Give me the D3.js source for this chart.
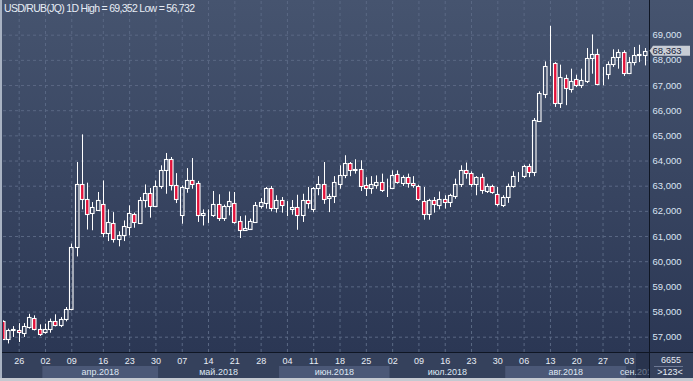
<!DOCTYPE html>
<html>
<head>
<meta charset="utf-8">
<script src="https://cdn.jsdelivr.net/npm/d3@7"></script>
<style>
  body { margin: 0; background: #2c3855; }
  svg { display: block; font-family: "Liberation Sans", Arial, sans-serif; }
</style>
</head>
<body>
<script>
// daily candles, 21.03.2018 .. 06.09.2018 (index = bar number)
const open = [57.61,56.89,57.25,57.25,57.16,57.38,57.74,57.29,57.19,57.29,57.61,57.45,57.69,58.09,60.55,63.08,62.46,61.93,62.05,62.28,
  61.13,61.53,60.87,61.03,61.36,61.86,61.53,62.42,62.72,62.18,62.97,63.61,64.07,63.01,61.82,62.92,63.21,63.11,61.82,61.89,
  61.82,62.28,61.73,62.18,62.32,61.58,61.23,61.29,61.56,62.18,62.32,62.91,62.13,62.42,62.06,62.06,62.15,61.82,62.42,62.09,
  62.91,63.05,62.52,62.59,63.08,63.41,63.90,63.61,63.65,63.01,62.92,63.04,63.15,62.80,62.92,63.45,63.12,63.34,63.12,62.99,
  62.38,61.86,62.42,62.25,62.48,62.35,62.59,63.05,63.61,63.50,63.08,63.34,62.79,62.97,62.68,62.25,62.55,62.97,63.38,63.37,
  63.77,63.54,65.57,66.66,67.79,67.86,66.30,67.29,66.83,67.22,66.99,67.15,68.07,68.25,67.45,67.42,67.82,68.13,68.31,67.49,
  67.91,68.21,68.21];
const high = [57.65,57.32,57.42,57.54,57.54,57.91,57.85,57.49,57.52,57.72,57.89,57.78,58.18,60.70,63.94,65.04,63.12,62.35,62.75,63.21,
  62.06,61.95,61.19,61.62,62.22,61.93,62.55,63.05,62.91,63.21,63.81,64.30,64.14,63.50,63.01,63.70,64.10,63.19,62.06,62.06,
  62.79,62.66,62.25,62.77,62.75,61.79,61.82,61.69,62.35,62.51,62.95,62.99,62.62,62.55,62.39,62.43,62.64,62.68,62.95,62.95,
  63.38,63.94,62.68,63.38,63.81,64.21,63.94,64.05,64.01,63.34,63.38,63.41,63.48,63.28,63.61,63.61,63.41,63.48,63.38,63.04,
  62.95,62.48,62.55,62.77,62.62,62.68,63.28,63.81,63.92,63.57,63.38,63.48,63.08,63.04,62.95,62.62,63.08,63.57,63.54,63.83,
  63.87,65.69,66.75,67.94,69.352,67.91,67.81,67.41,67.65,67.41,67.65,68.47,69.01,68.44,67.72,67.94,68.42,68.42,68.38,68.11,
  68.51,68.60,68.47];
const low = [56.90,56.732,56.99,56.79,56.99,57.32,57.25,57.03,57.12,57.16,57.41,57.38,57.61,58.05,60.19,62.06,61.26,61.23,62.00,60.96,
  60.80,60.74,60.59,60.80,61.03,61.33,61.49,62.13,61.73,62.15,62.88,62.68,62.81,62.31,61.49,62.72,62.88,61.56,61.42,61.52,
  61.76,61.60,61.60,61.82,61.49,60.92,61.23,61.29,61.52,62.09,62.09,61.98,61.93,61.93,61.79,61.85,61.25,61.56,62.09,61.95,
  62.62,62.28,61.95,62.31,62.88,63.30,63.38,63.48,62.79,62.59,62.68,62.88,62.75,62.55,62.88,63.08,62.99,62.92,62.92,62.39,
  61.65,61.65,61.93,62.06,62.09,62.15,62.48,62.95,63.28,62.95,62.62,62.68,62.71,62.68,62.18,62.15,62.32,62.92,63.15,63.30,
  63.34,63.38,65.53,66.48,67.36,66.13,66.09,66.20,66.70,66.92,66.88,67.08,67.45,66.99,66.99,67.23,67.72,67.65,67.36,67.45,
  67.78,67.91,67.78];
const close = [56.92,57.25,57.29,57.17,57.42,57.78,57.29,57.12,57.29,57.61,57.45,57.72,58.09,60.55,63.08,62.46,61.89,62.15,62.42,61.13,
  61.56,60.87,61.03,61.40,61.91,61.56,62.42,62.72,62.18,62.99,63.61,64.07,63.01,62.46,62.95,63.21,63.08,61.82,61.93,61.89,
  62.28,61.73,62.19,62.38,61.56,61.23,61.32,61.58,62.25,62.35,62.91,62.13,62.42,62.22,62.06,62.15,61.82,62.42,62.32,62.91,
  63.05,62.48,62.59,63.15,63.41,63.90,63.61,63.68,62.97,62.92,63.05,63.15,62.81,62.79,63.41,63.15,63.34,63.12,63.01,62.48,
  61.86,62.42,62.26,62.46,62.35,62.62,63.05,63.61,63.52,63.08,63.34,62.81,62.97,62.75,62.26,62.55,62.99,63.38,63.38,63.77,
  63.54,65.60,66.70,67.75,67.81,66.30,67.32,66.88,67.16,66.99,67.19,68.07,68.25,67.03,67.45,67.85,68.11,68.31,67.48,67.91,
  68.21,68.22,68.363];

const dayTicks  = [3,8,13,19,24,29,34,39,44,49,54,59,64,69,74,79,84,89,94,99,104,109,114,119];
const dayLabels = ["26","02","09","16","23","30","07","14","21","28","04","11","18","25","02","09","16","23","30","06","13","20","27","03"];
const monthStarts = [7.5, 29.5, 52.5, 73.5, 95.5, 118.5];
const monthLabels = ["апр.2018","май.2018","июн.2018","июл.2018","авг.2018","сен.2018"];
const priceTicks = [57,58,59,60,61,62,63,64,65,66,67,68,69];

const W = 693, H = 381;
const plotL = 3, plotR = 649, plotB = 352;

const x = d3.scaleLinear().domain([0, 122]).range([2.9, 644.6]);
const y = d3.scaleLinear().domain([57, 69]).range([336.7, 34.7]);
const fmt = v => d3.format(".3f")(v).replace(".", ",");

const svg = d3.select("body").append("svg")
  .attr("width", W)
  .attr("height", H);

const defs = svg.append("defs");
const grad = defs.append("linearGradient")
  .attr("id", "bg")
  .attr("x1", 0).attr("y1", 0).attr("x2", 0).attr("y2", 1);
grad.append("stop").attr("offset", "0%").attr("stop-color", "#46546f");
grad.append("stop").attr("offset", "100%").attr("stop-color", "#2b3754");

defs.append("clipPath").attr("id", "plotClip")
  .append("rect")
  .attr("x", plotL).attr("y", 0)
  .attr("width", plotR - plotL).attr("height", plotB);

defs.append("clipPath").attr("id", "axisClip")
  .append("rect")
  .attr("x", plotL).attr("y", plotB)
  .attr("width", plotR - plotL).attr("height", H - plotB);

// backgrounds
svg.append("rect")
  .attr("width", W).attr("height", plotB)
  .attr("fill", "url(#bg)");
svg.append("rect")
  .attr("y", plotB).attr("width", W).attr("height", H - plotB)
  .attr("fill", "#35415c");

// grid
const grid = svg.append("g").attr("clip-path", "url(#plotClip)");
grid.append("g")
  .attr("transform", "translate(" + plotL + ",0)")
  .call(d3.axisLeft(y).tickValues(priceTicks).tickSize(-(plotR - plotL)).tickFormat(""));
grid.append("g")
  .attr("transform", "translate(0," + plotB + ")")
  .call(d3.axisBottom(x).tickValues(dayTicks).tickSize(-plotB).tickFormat(""));
grid.selectAll(".domain").remove();
grid.selectAll(".tick line")
  .attr("stroke", "#5a6884")
  .attr("stroke-dasharray", "3,3");

// candles
const bars = d3.range(close.length).map(i => ({
  i: i, o: open[i], h: high[i], l: low[i], c: close[i]
}));

const cg = svg.append("g").attr("clip-path", "url(#plotClip)");
const candle = cg.selectAll("g.candle")
  .data(bars)
  .enter()
  .append("g")
  .attr("class", "candle");

candle.each(function(d) {
  const g = d3.select(this);
  const cx = Math.round(x(d.i));
  const top = Math.round(y(Math.max(d.o, d.c)));
  const bot = Math.round(y(Math.min(d.o, d.c)));
  g.append("line")
    .attr("x1", cx + 0.5).attr("x2", cx + 0.5)
    .attr("y1", y(d.h)).attr("y2", top)
    .attr("stroke", "#ffffff");
  g.append("line")
    .attr("x1", cx + 0.5).attr("x2", cx + 0.5)
    .attr("y1", bot).attr("y2", y(d.l))
    .attr("stroke", "#ffffff");
  g.append("rect")
    .attr("x", cx - 1.5)
    .attr("y", top + 0.5)
    .attr("width", 3.5)
    .attr("height", Math.max(0, bot - top))
    .attr("fill", d.c < d.o ? "#e3123b" : "none")
    .attr("stroke", "#ffffff")
    .attr("stroke-width", 1.1);
});

// month bands
const mg = svg.append("g").attr("clip-path", "url(#axisClip)");
monthStarts.forEach((s, k) => {
  const x0 = x(s);
  const x1 = k < monthStarts.length - 1 ? x(monthStarts[k + 1]) : plotR + 2;
  if (k % 2 === 0) {
    mg.append("rect")
      .attr("x", x0).attr("y", 366)
      .attr("width", x1 - x0).attr("height", 12)
      .attr("fill", "#4b5877");
  }
  mg.append("text")
    .attr("x", (x0 + x1) / 2)
    .attr("y", 375.3)
    .attr("text-anchor", "middle")
    .attr("font-size", "9px")
    .attr("fill", "#dfe6f2")
    .text(monthLabels[k]);
});
svg.append("rect")
  .attr("x", 636).attr("y", 353)
  .attr("width", 13).attr("height", 25)
  .attr("fill", "#222c44")
  .attr("fill-opacity", 0.6);

// day axis
const xAxis = svg.append("g")
  .attr("transform", "translate(0," + plotB + ")")
  .call(d3.axisBottom(x)
    .tickValues(dayTicks)
    .tickFormat((d, i) => dayLabels[i])
    .tickSize(0)
    .tickPadding(5.6));
xAxis.select(".domain").remove();
xAxis.selectAll("text")
  .attr("font-size", "9px")
  .attr("font-family", "Liberation Sans, Arial, sans-serif")
  .attr("fill", "#e8edf5");

// price axis
const yAxis = svg.append("g")
  .attr("transform", "translate(" + plotR + ",0)")
  .call(d3.axisRight(y)
    .tickValues(priceTicks)
    .tickFormat(fmt)
    .tickSize(0)
    .tickPadding(3.5));
yAxis.select(".domain").remove();
yAxis.selectAll("text")
  .attr("font-size", "9.5px")
  .attr("font-family", "Liberation Sans, Arial, sans-serif")
  .attr("fill", "#dbe4f3");

// axis lines
svg.append("line")
  .attr("x1", 0).attr("x2", W)
  .attr("y1", plotB + 0.5).attr("y2", plotB + 0.5)
  .attr("stroke", "#0f1624");
svg.append("line")
  .attr("x1", plotR + 0.5).attr("x2", plotR + 0.5)
  .attr("y1", 0).attr("y2", 378)
  .attr("stroke", "#0f1624");

// last price tag
const last = close[close.length - 1];
const ly = y(last);
svg.append("path")
  .attr("d", d3.line()([[plotR + 0.5, ly], [653, ly - 5], [690, ly - 5], [690, ly + 5], [653, ly + 5]]) + "Z")
  .attr("fill", "#c8cdd5");
svg.append("text")
  .attr("x", 652.5).attr("y", ly + 3.4)
  .attr("font-size", "9.5px")
  .attr("fill", "#16223a")
  .text(fmt(last));

// title
svg.append("text")
  .attr("x", 4).attr("y", 12)
  .attr("font-size", "10.5px")
  .attr("fill", "#e6ecf5")
  .attr("textLength", 191)
  .attr("lengthAdjust", "spacing")
  .text("USD/RUB(JQ) 1D High = " + fmt(d3.max(high)) + " Low = " + fmt(d3.min(low)));

// bottom right info
svg.append("text")
  .attr("x", 671).attr("y", 362.7)
  .attr("text-anchor", "middle")
  .attr("font-size", "9px")
  .attr("fill", "#e8edf5")
  .text("6655");
svg.append("line")
  .attr("x1", 654).attr("x2", 683)
  .attr("y1", 366.5).attr("y2", 366.5)
  .attr("stroke", "#6c7893");
svg.append("text")
  .attr("x", 670).attr("y", 375)
  .attr("text-anchor", "middle")
  .attr("font-size", "9px")
  .attr("fill", "#e8edf5")
  .text(">" + close.length + "<");

// outer frame
svg.append("rect")
  .attr("x", 0).attr("y", 0).attr("width", 2).attr("height", H)
  .attr("fill", "#a9b3c3");
svg.append("rect")
  .attr("x", 0).attr("y", 378).attr("width", W).attr("height", 3)
  .attr("fill", "#c5c9d1");
</script>
</body>
</html>
